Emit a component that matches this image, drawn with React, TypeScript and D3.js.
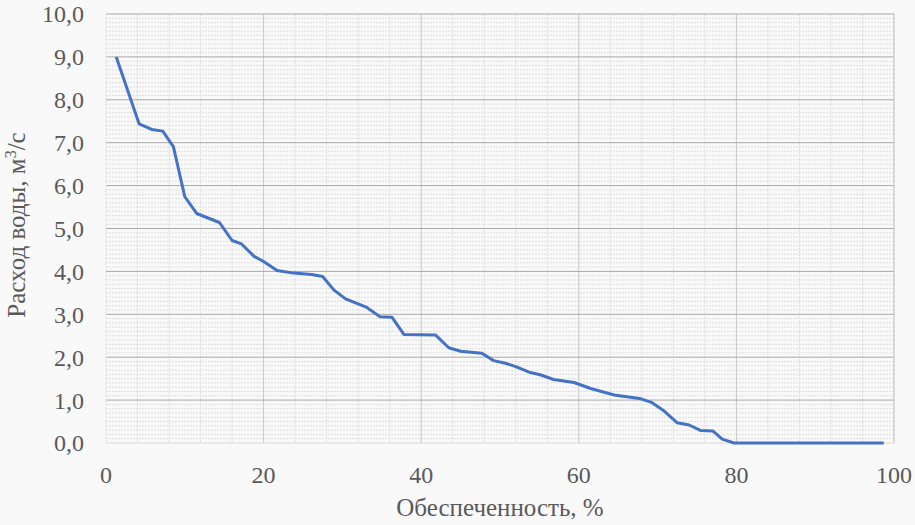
import React, { useEffect } from "react";
import * as d3 from "d3";

const exceedance = [1.3, 4.2, 5.8, 7.2, 8.55, 10.0, 11.5, 14.4, 16.0, 17.2, 18.8, 20.0, 21.7, 23.8, 26.1, 27.5, 28.9, 30.4, 33.1, 34.8, 36.3, 37.8, 41.8, 43.5, 45.0, 47.7, 49.2, 50.7, 52.0, 53.7, 55.1, 56.8, 59.4, 61.5, 64.5, 67.9, 69.3, 70.8, 72.5, 74.0, 75.5, 77.0, 78.2, 79.7, 98.7];
const discharge = [9.0, 7.44, 7.31, 7.27, 6.91, 5.74, 5.35, 5.14, 4.72, 4.64, 4.35, 4.23, 4.02, 3.96, 3.93, 3.88, 3.57, 3.36, 3.16, 2.94, 2.93, 2.53, 2.52, 2.22, 2.14, 2.09, 1.92, 1.86, 1.78, 1.65, 1.59, 1.48, 1.41, 1.27, 1.12, 1.03, 0.94, 0.75, 0.47, 0.42, 0.29, 0.28, 0.09, 0, 0];
const xTicks = [0, 20, 40, 60, 80, 100];
const yTicks = [0, 1, 2, 3, 4, 5, 6, 7, 8, 9, 10];
const xTitle = "Обеспеченность, %";

const W = 915, H = 525;
const L = 106, R = 894, T = 14, B = 443;

export default function App() {
  useEffect(() => {
    document.body.style.margin = "0";
    document.body.style.background = "#f9f9f9";
  }, []);
  const x = d3.scaleLinear().domain([0, 100]).range([L, R]);
  const y = d3.scaleLinear().domain([0, 10]).range([B, T]);
  const minorY = d3.range(0, 100).map((i) => i / 10).filter((v) => Math.abs(v - Math.round(v)) > 1e-6);
  const minorX = d3.range(0, 101, 4).filter((v) => v % 20 !== 0);
  const pts = exceedance.map((p, i) => [p, discharge[i]] as [number, number]);
  const line = d3.line<[number, number]>().x((d) => x(d[0])).y((d) => y(d[1]));
  const ts = { fontFamily: "Liberation Serif", fill: "#595959" };
  return (
    <svg width={W} height={H} style={{ display: "block", background: "#f9f9f9" }}>
      {minorY.map((v) => (
        <line key={"my" + v} x1={L} x2={R} y1={y(v)} y2={y(v)} stroke="#dedede" strokeWidth={1} strokeDasharray="2,1" />
      ))}
      {minorX.map((v) => (
        <line key={"mx" + v} x1={x(v)} x2={x(v)} y1={T} y2={B} stroke="#dedede" strokeWidth={1} strokeDasharray="2,1" />
      ))}
      {xTicks.filter((v) => v > 0 && v < 100).map((v) => (
        <line key={"gx" + v} x1={x(v)} x2={x(v)} y1={T} y2={B} stroke="#c8c8c8" strokeWidth={1} />
      ))}
      {yTicks.map((v) => (
        <line key={"gy" + v} x1={L} x2={R} y1={y(v)} y2={y(v)} stroke={v === 0 ? "#d8d8d8" : "#a8a8a8"} strokeWidth={1} />
      ))}
      <line x1={L} x2={L} y1={T} y2={B} stroke="#dedede" strokeDasharray="2,1" />
      <line x1={R} x2={R} y1={T} y2={B} stroke="#bcbcbc" />
      <path d={line(pts) || ""} fill="none" stroke="#4472c4" strokeWidth={3} strokeLinejoin="round" />
      {yTicks.map((v) => (
        <text key={"ty" + v} x={84} y={y(v)} dy="0.35em" textAnchor="end" fontSize={24} style={ts}>
          {d3.format(".1f")(v).replace(".", ",")}
        </text>
      ))}
      {xTicks.map((v) => (
        <text key={"tx" + v} x={x(v)} y={483} textAnchor="middle" fontSize={24} style={ts}>
          {v}
        </text>
      ))}
      <text x={500} y={516} textAnchor="middle" fontSize={25} style={ts}>
        {xTitle}
      </text>
      <text transform={`translate(25,225) rotate(-90)`} textAnchor="middle" fontSize={25} style={ts}>
        Расход воды, м<tspan dy={-9} fontSize={16}>3</tspan><tspan dy={9}>/с</tspan>
      </text>
    </svg>
  );
}
